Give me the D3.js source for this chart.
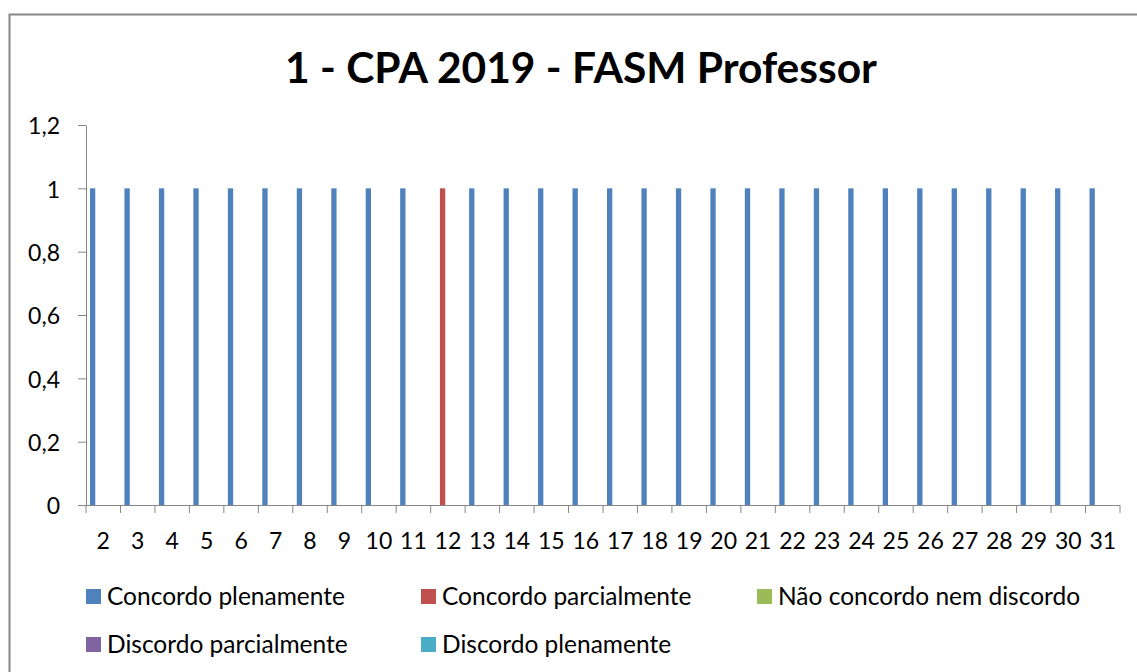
<!DOCTYPE html>
<html>
<head>
<meta charset="utf-8">
<script src="https://cdn.jsdelivr.net/npm/d3@7"></script>
<style>
  body { margin: 0; background: #fff; }
  text { font-family: Lato, "Open Sans", sans-serif; fill: #000; }
</style>
</head>
<body>
<div id="chart"></div>
<script>
const categories = ["2","3","4","5","6","7","8","9","10","11","12","13","14","15","16","17","18","19","20","21","22","23","24","25","26","27","28","29","30","31"];
const seriesNames = ["Concordo plenamente", "Concordo parcialmente", "Não concordo nem discordo", "Discordo parcialmente", "Discordo plenamente"];
const seriesColors = ["#4F81BD", "#C0504D", "#9BBB59", "#8064A2", "#4BACC6"];
const concordoPlenamente = [1,1,1,1,1,1,1,1,1,1,0,1,1,1,1,1,1,1,1,1,1,1,1,1,1,1,1,1,1,1];
const concordoParcialmente = [0,0,0,0,0,0,0,0,0,0,1,0,0,0,0,0,0,0,0,0,0,0,0,0,0,0,0,0,0,0];
const naoConcordo = [0,0,0,0,0,0,0,0,0,0,0,0,0,0,0,0,0,0,0,0,0,0,0,0,0,0,0,0,0,0];
const discordoParcialmente = [0,0,0,0,0,0,0,0,0,0,0,0,0,0,0,0,0,0,0,0,0,0,0,0,0,0,0,0,0,0];
const discordoPlenamente = [0,0,0,0,0,0,0,0,0,0,0,0,0,0,0,0,0,0,0,0,0,0,0,0,0,0,0,0,0,0];
const yTicks = [0, 0.2, 0.4, 0.6, 0.8, 1, 1.2];
const titleText = "1 - CPA 2019 - FASM Professor";

const seriesValues = [concordoPlenamente, concordoParcialmente, naoConcordo, discordoParcialmente, discordoPlenamente];

const W = 1137, H = 672;
const plot = { left: 86, right: 1120, top: 125, bottom: 505 };

const svg = d3.select("#chart").append("svg")
  .attr("width", W)
  .attr("height", H);

// chart border (only top/left edges fall inside the picture)
svg.append("rect")
  .attr("x", 9.5).attr("y", 14.5)
  .attr("width", W + 20).attr("height", H + 20)
  .attr("fill", "#fff")
  .attr("stroke", "#868686")
  .attr("stroke-width", 2);

svg.append("text")
  .attr("x", 581)
  .attr("y", 83)
  .attr("text-anchor", "middle")
  .style("font-size", "42.5px")
  .style("font-weight", "bold")
  .text(titleText);

const x = d3.scaleBand()
  .domain(categories)
  .range([plot.left, plot.right])
  .paddingInner(0)
  .paddingOuter(0);

const xSeries = d3.scaleBand()
  .domain(seriesNames)
  .range([0, x.bandwidth()])
  .paddingInner(0)
  .paddingOuter(0.75);

const y = d3.scaleLinear()
  .domain([0, 1.2])
  .range([plot.bottom, plot.top]);

const comma = d3.formatLocale({ decimal: ",", thousands: ".", grouping: [3], currency: ["R$", ""] }).format("~g");

// y axis
svg.append("g")
  .attr("transform", `translate(${plot.left},0)`)
  .call(d3.axisLeft(y).tickValues(yTicks).tickFormat(comma).tickSize(8).tickSizeOuter(0).tickPadding(18))
  .call((g) => g.selectAll("line, path").attr("stroke", "#868686"))
  .call((g) => g.selectAll("text").style("font-size", "23px").attr("dy", "0.38em").style("font-family", "Lato, sans-serif"));

// bars
const rows = [];
seriesValues.forEach((vals, si) => {
  vals.forEach((v, ci) => {
    rows.push({ cat: categories[ci], series: seriesNames[si], color: seriesColors[si], value: v });
  });
});

svg.append("g").selectAll("rect")
  .data(rows.filter((d) => d.value > 0))
  .enter()
  .append("rect")
  .attr("x", (d) => x(d.cat) + xSeries(d.series))
  .attr("y", (d) => y(d.value))
  .attr("width", xSeries.bandwidth())
  .attr("height", (d) => y(0) - y(d.value))
  .attr("fill", (d) => d.color);

// x axis: labels at band centres, ticks at band boundaries
const xAxis = svg.append("g")
  .attr("transform", `translate(0,${plot.bottom})`)
  .call(d3.axisBottom(x).tickSize(0).tickSizeOuter(0))
  .call((g) => g.select(".domain").attr("stroke", "#868686").attr("d", `M${plot.left},0.5H${plot.right}`))
  .call((g) => g.selectAll("text").style("font-size", "23px").attr("y", 44).attr("dy", null).style("font-family", "Lato, sans-serif"));

xAxis.selectAll(".bound")
  .data(categories.map((c) => x(c)).concat([x.range()[1]]))
  .enter()
  .append("line")
  .attr("class", "bound")
  .attr("x1", (d) => d).attr("x2", (d) => d)
  .attr("y1", 0).attr("y2", 8)
  .attr("stroke", "#868686");

// legend
const legendPos = [
  { x: 86, y: 589 }, { x: 421, y: 589 }, { x: 757, y: 589 },
  { x: 86, y: 637 }, { x: 421, y: 637 }
];
const legend = svg.append("g").selectAll("g")
  .data(seriesNames)
  .enter()
  .append("g")
  .attr("transform", (d, i) => `translate(${legendPos[i].x},${legendPos[i].y})`);

legend.append("rect")
  .attr("width", 15).attr("height", 15)
  .attr("fill", (d, i) => seriesColors[i]);

legend.append("text")
  .attr("x", 21)
  .attr("y", 16)
  .style("font-size", "24.5px")
  .text((d) => d);
</script>
</body>
</html>
